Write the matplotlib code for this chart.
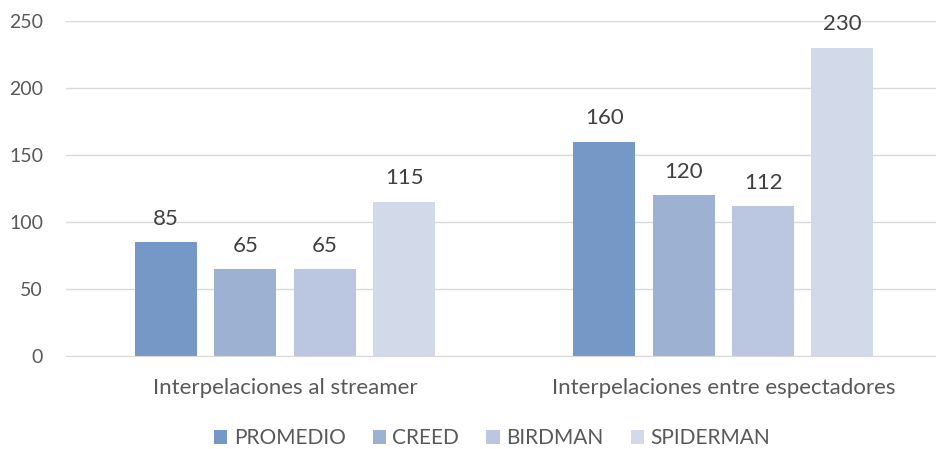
import matplotlib
matplotlib.use("Agg")
import matplotlib.pyplot as plt
import numpy as np

categories = ["Interpelaciones al streamer", "Interpelaciones entre espectadores"]
series = ["PROMEDIO", "CREED", "BIRDMAN", "SPIDERMAN"]
promedio = [85, 160]
creed = [65, 120]
birdman = [65, 112]
spiderman = [115, 230]

values = [promedio, creed, birdman, spiderman]
colors = ["#7698C6", "#9DB1D3", "#BBC7E0", "#D2D9E8"]
text_color = "#595959"

plt.rcParams["font.family"] = ["Lato", "DejaVu Sans"]

fig = plt.figure(figsize=(9.36, 4.49), dpi=100)
ax = fig.add_axes([66 / 936, 1 - 356 / 449, 870 / 936, (356 - 21) / 449])

x = np.arange(len(categories))
width = 0.1416
step = 0.181
for i, (name, vals, col) in enumerate(zip(series, values, colors)):
    pos = x + (i - 1.5) * step
    bars = ax.bar(pos, vals, width, color=col, label=name, zorder=2)
    for b, v in zip(bars, vals):
        ax.text(b.get_x() + b.get_width() / 2, v + 10, str(v), ha="center", va="bottom",
                fontsize=16, color="#404040")

ax.set_xlim(-0.5, 1.5 - 6.5 / 438)
ax.set_ylim(0, 250)
ax.set_yticks(range(0, 251, 50))
ax.grid(axis="y", color="#D9D9D9", lw=1, zorder=0)
ax.set_xticks(x)
ax.set_xticklabels(categories, fontsize=16, color=text_color)
ax.set_yticklabels([str(v) for v in range(0, 251, 50)], fontsize=14, color=text_color)
ax.tick_params(axis="both", length=0, labelcolor=text_color)
ax.tick_params(axis="x", pad=16)
ax.tick_params(axis="y", pad=16.5)
for s in ["top", "right", "left"]:
    ax.spines[s].set_visible(False)
ax.spines["bottom"].set_color("#D9D9D9")

fig.legend(loc="center", bbox_to_anchor=(492 / 936, 1 - 438 / 449), ncol=4, frameon=False,
           fontsize=15, handlelength=0.65, handleheight=0.65, handletextpad=0.3,
           columnspacing=1.3, labelcolor=text_color, borderpad=0)

fig.savefig("out.png", dpi=100)
